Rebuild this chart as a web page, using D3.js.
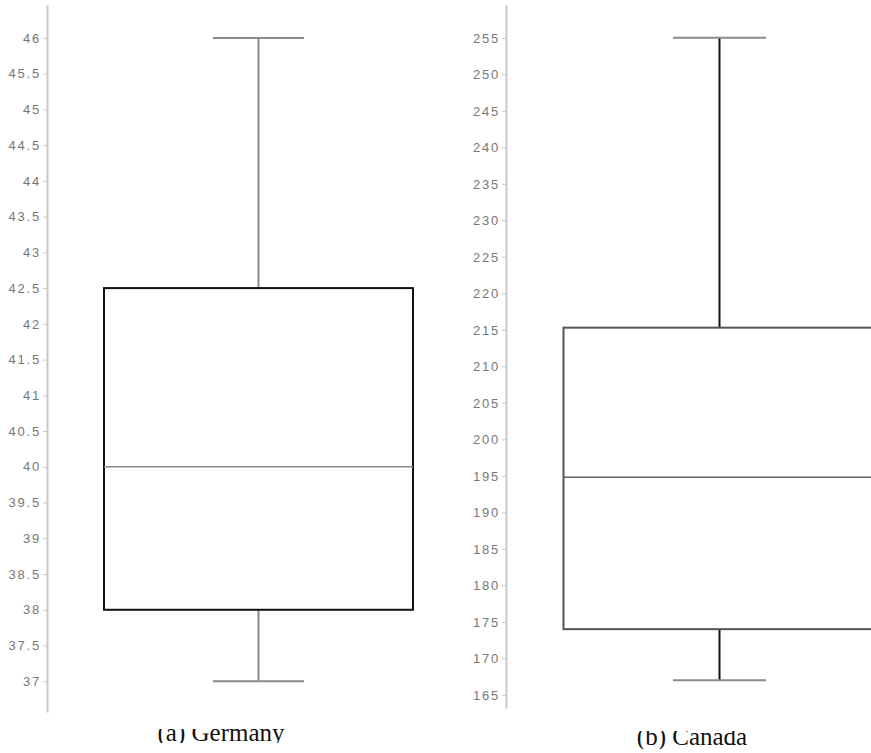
<!DOCTYPE html>
<html>
<head>
<meta charset="utf-8">
<script src="https://cdn.jsdelivr.net/npm/d3@7"></script>
<style>
  body { margin: 0; background: #fff; }
  svg { display: block; }
  .axis path, .axis line { stroke: #c8c8c8; }
  .axis path { stroke-width: 2; }
  .axis text { fill: #777; font-family: Arial, "Liberation Sans", sans-serif; font-size: 13px; letter-spacing: 1.8px; }
</style>
</head>
<body>
<svg id="chart"></svg>
<script>
const svg_w = 871;
const svg_h = 753;

// datos: [min, q1, mediana, q3, max]
const captions = ["(a) Germany", "(b) Canada"];
const germany_stats = [37, 38, 40, 42.5, 46];
const canada_stats = [167, 174, 194.8, 215.3, 255];
const germany_ticks = [37, 37.5, 38, 38.5, 39, 39.5, 40, 40.5, 41, 41.5, 42, 42.5, 43, 43.5, 44, 44.5, 45, 45.5, 46];
const canada_ticks = [165, 170, 175, 180, 185, 190, 195, 200, 205, 210, 215, 220, 225, 230, 235, 240, 245, 250, 255];

// layout de cada panel
const panels = [
  {stats: germany_stats, ticks: germany_ticks, caption: captions[0],
   domain: [36.57, 46.46], range: [712, 5], axis_x: 47, cx: 258.5, half: 154.5, cap: 45.5,
   box_stroke: "#111", whisk_stroke: "#8a8a8a", whisk_line: "#8a8a8a", med_stroke: "#8a8a8a",
   cap_x: 221, cap_y: 741, clip: [729, 743]},
  {stats: canada_stats, ticks: canada_ticks, caption: captions[1],
   domain: [163.2, 259.5], range: [708, 5], axis_x: 506, cx: 719.5, half: 156, cap: 46.5,
   box_stroke: "#555", whisk_stroke: "#8a8a8a", whisk_line: "#111", med_stroke: "#666",
   cap_x: 692, cap_y: 745, clip: [731, 749]}
];

let svg = d3.select("#chart")
  .attr("width", svg_w)
  .attr("height", svg_h);

panels.forEach((p, i) => {
  let y_scale = d3.scaleLinear()
    .domain(p.domain)
    .range(p.range);

  let g = svg.append("g");

  // eje
  g.append("g")
    .attr("class", "axis")
    .attr("transform", `translate(${p.axis_x},0)`)
    .call(d3.axisLeft(y_scale).tickValues(p.ticks).tickSize(4).tickSizeOuter(0).tickPadding(2).tickFormat(d3.format("")));

  let [mn, q1, med, q3, mx] = p.stats;

  // bigote
  g.append("line")
    .attr("x1", p.cx).attr("x2", p.cx)
    .attr("y1", y_scale(mx)).attr("y2", y_scale(q3))
    .attr("stroke", p.whisk_line).attr("stroke-width", 2);
  g.append("line")
    .attr("x1", p.cx).attr("x2", p.cx)
    .attr("y1", y_scale(q1)).attr("y2", y_scale(mn))
    .attr("stroke", p.whisk_line).attr("stroke-width", 2);

  // topes
  [mn, mx].forEach(v => {
    g.append("line")
      .attr("x1", p.cx - p.cap).attr("x2", p.cx + p.cap)
      .attr("y1", y_scale(v)).attr("y2", y_scale(v))
      .attr("stroke", p.whisk_stroke).attr("stroke-width", 2);
  });

  // caja
  g.append("rect")
    .attr("x", p.cx - p.half)
    .attr("y", y_scale(q3))
    .attr("width", p.half * 2)
    .attr("height", y_scale(q1) - y_scale(q3))
    .attr("fill", "none")
    .attr("stroke", p.box_stroke)
    .attr("stroke-width", 2);

  // mediana
  g.append("line")
    .attr("x1", p.cx - p.half).attr("x2", p.cx + p.half)
    .attr("y1", y_scale(med)).attr("y2", y_scale(med))
    .attr("stroke", p.med_stroke).attr("stroke-width", 1.5);

  // pie de figura (recortado arriba y abajo como en la imagen)
  svg.append("clipPath")
    .attr("id", "clip" + i)
    .append("rect")
    .attr("x", 0).attr("width", svg_w)
    .attr("y", p.clip[0]).attr("height", p.clip[1] - p.clip[0]);

  svg.append("text")
    .attr("clip-path", `url(#clip${i})`)
    .attr("x", p.cap_x)
    .attr("y", p.cap_y)
    .attr("text-anchor", "middle")
    .attr("font-family", "'Liberation Serif', 'Times New Roman', serif")
    .attr("font-size", 25)
    .attr("fill", "#111")
    .text(p.caption);
});
</script>
</body>
</html>
